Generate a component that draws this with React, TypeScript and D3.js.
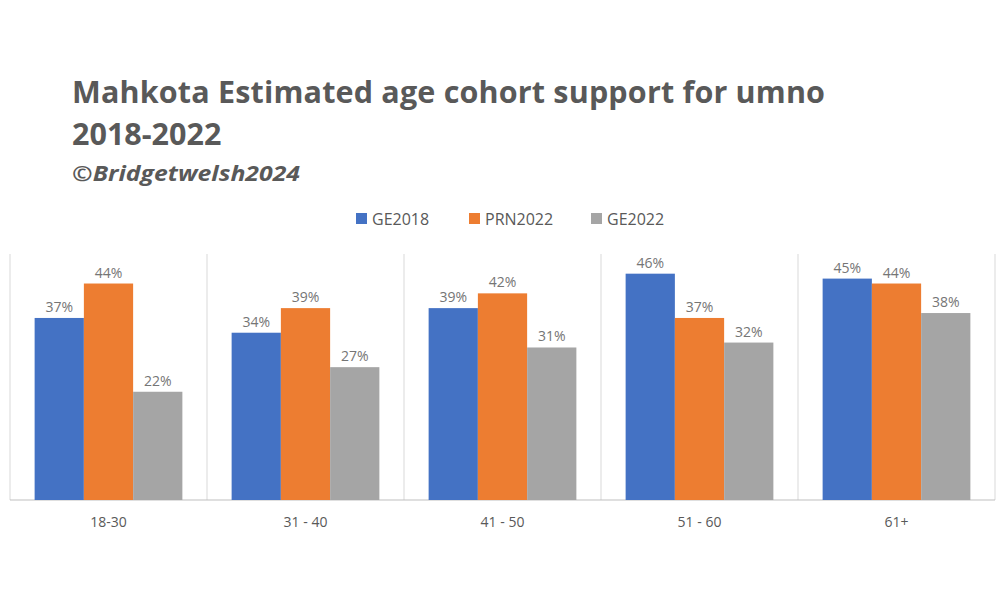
import { useEffect, useRef } from 'react'
import * as d3 from 'd3'

const categories = ['18-30', '31 - 40', '41 - 50', '51 - 60', '61+']
const seriesNames = ['GE2018', 'PRN2022', 'GE2022']
const colors = ['#4472c4', '#ed7d31', '#a5a5a5']
const ge2018 = [37, 34, 39, 46, 45]
const prn2022 = [44, 39, 42, 37, 44]
const ge2022 = [22, 27, 31, 32, 38]

const font = "'Open Sans', 'Liberation Sans', sans-serif"

export default function App() {
  const ref = useRef<SVGSVGElement | null>(null)

  useEffect(() => {
    if (!ref.current) return
    const svg = d3.select(ref.current)
    svg.selectAll('*').remove()
    const values = [ge2018, prn2022, ge2022]

    const left = 10, right = 995, top = 254, bottom = 500
    const x = d3.scaleBand<string>().domain(categories).range([left, right])
    const inner = d3.scaleBand<string>().domain(seriesNames).range([0, x.bandwidth()]).paddingOuter(0.5).paddingInner(0)
    const y = d3.scaleLinear().domain([0, 50]).range([bottom, top])

    svg.append('text').attr('x', 72).attr('y', 103).attr('font-family', font).attr('font-weight', 700)
      .attr('font-size', 30.5).attr('fill', '#595959').attr('textLength', 753)
      .text('Mahkota Estimated age cohort support for umno')
    svg.append('text').attr('x', 72).attr('y', 145).attr('font-family', font).attr('font-weight', 700)
      .attr('font-size', 30.5).attr('fill', '#595959').text('2018-2022')
    svg.append('text').attr('x', 72).attr('y', 181).attr('font-family', font).attr('font-weight', 700)
      .attr('font-style', 'italic').attr('font-size', 22).attr('fill', '#595959')
      .attr('textLength', 228).attr('lengthAdjust', 'spacingAndGlyphs')
      .text('©Bridgetwelsh2024')

    // legend
    const legendX = [356, 469, 591]
    seriesNames.forEach((s, i) => {
      svg.append('rect').attr('x', legendX[i]).attr('y', 213).attr('width', 11).attr('height', 11).attr('fill', colors[i])
      svg.append('text').attr('x', legendX[i] + 16).attr('y', 225).attr('font-family', font)
        .attr('font-size', 16).attr('fill', '#595959').text(s)
    })

    // grid separators
    const edges = categories.map((c) => x(c)!).concat([right])
    svg.selectAll('line.sep').data(edges).join('line')
      .attr('x1', (d) => d).attr('x2', (d) => d).attr('y1', top).attr('y2', bottom)
      .attr('stroke', '#d9d9d9').attr('stroke-width', 1)
    svg.append('line').attr('x1', left).attr('x2', right).attr('y1', bottom).attr('y2', bottom)
      .attr('stroke', '#bfbfbf')

    categories.forEach((c, ci) => {
      seriesNames.forEach((s, si) => {
        const v = values[si][ci]
        const bx = x(c)! + inner(s)!
        svg.append('rect').attr('x', bx).attr('y', y(v)).attr('width', inner.bandwidth())
          .attr('height', bottom - y(v)).attr('fill', colors[si])
        svg.append('text').attr('x', bx + inner.bandwidth() / 2).attr('y', y(v) - 6)
          .attr('text-anchor', 'middle').attr('font-family', font).attr('font-size', 14)
          .attr('fill', '#757575').text(`${v}%`)
      })
      svg.append('text').attr('x', x(c)! + x.bandwidth() / 2).attr('y', 527).attr('text-anchor', 'middle')
        .attr('font-family', font).attr('font-size', 14).attr('fill', '#595959').text(c)
    })
  }, [])

  return <svg ref={ref} width={1000} height={600} style={{ position: 'absolute', left: 0, top: 0, background: '#fff' }} />
}
